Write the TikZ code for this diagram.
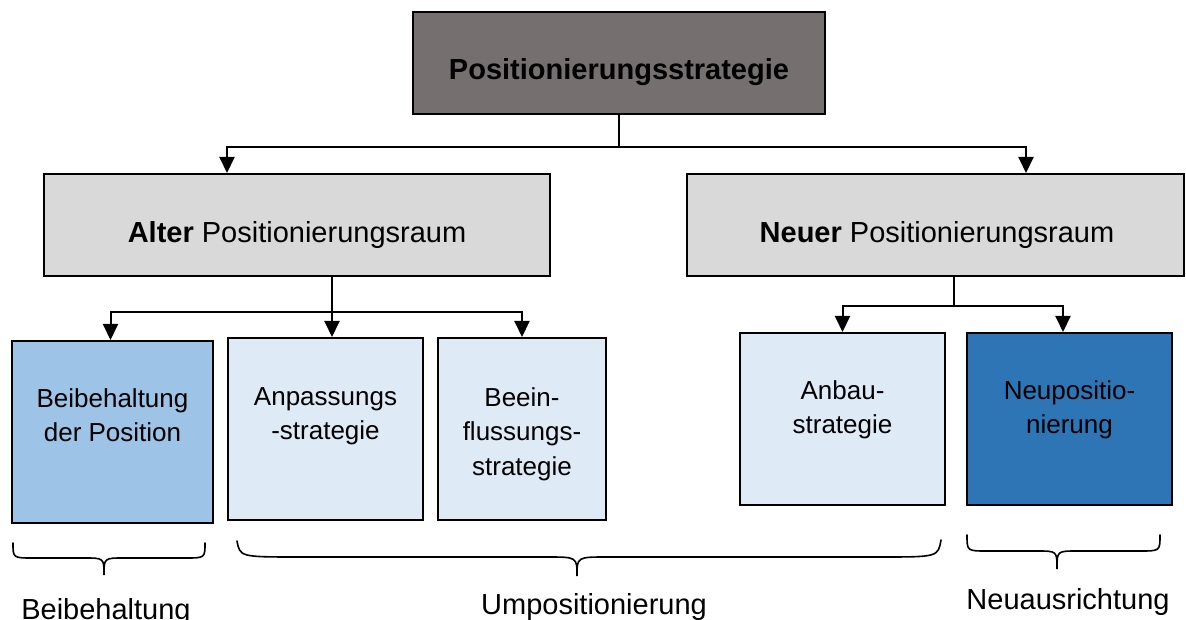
\documentclass[tikz,border=0pt]{standalone}
\usepackage{fontspec}
\setmainfont{Liberation Sans}
\usetikzlibrary{arrows.meta}
\definecolor{topgray}{RGB}{117,112,111}
\definecolor{midgray}{RGB}{217,217,217}
\definecolor{midblue}{RGB}{157,195,230}
\definecolor{paleblue}{RGB}{222,235,247}
\definecolor{deepblue}{RGB}{46,117,182}
\begin{document}
\begin{tikzpicture}[x=1pt,y=-1pt,
  box/.style={draw=black,line width=2pt,inner sep=0pt},
  bigtxt/.style={inner sep=0pt,font=\fontsize{29}{34}\selectfont},
  boxtxt/.style={inner sep=0pt,anchor=north,align=center,font=\fontsize{26}{34.5}\selectfont},
  conn/.style={line width=2pt},
  arrow/.style={line width=2pt,-{Triangle[length=16pt,width=15pt]}},
  brace/.style={line width=1.6pt,line cap=round}]
\useasboundingbox (0,0) rectangle (1186,620);

% top level
\node[box,fill=topgray,minimum width=412pt,minimum height=102pt] (top) at (619,63) {};
\node[bigtxt,anchor=base] (toptxt) at (619,80) {\textbf{Positionierungsstrategie}};

% second level
\node[box,fill=midgray,minimum width=506pt,minimum height=102pt] (alter) at (297,225) {};
\node[bigtxt,anchor=base] (altertxt) at (297,243) {\textbf{Alter} Positionierungsraum};
\node[box,fill=midgray,minimum width=497pt,minimum height=102pt] (neuer) at (935.5,225) {};
\node[bigtxt,anchor=base] (neuertxt) at (937,243) {\textbf{Neuer} Positionierungsraum};

% third level
\node[box,fill=midblue,minimum width=201pt,minimum height=182pt] (beib) at (112.5,432) {};
\node[box,fill=paleblue,minimum width=195pt,minimum height=182pt] (anp) at (325.5,429) {};
\node[box,fill=paleblue,minimum width=168pt,minimum height=182pt] (bee) at (522,429) {};
\node[box,fill=paleblue,minimum width=205pt,minimum height=172pt] (anbau) at (842.5,419) {};
\node[box,fill=deepblue,minimum width=205pt,minimum height=172pt] (neup) at (1069.5,419) {};

\node[boxtxt] (beibtxt) at ([yshift=-48pt]beib.north) {Beibehaltung\\der Position};
\node[boxtxt] (anptxt) at ([yshift=-50pt]anp.north) {Anpassungs\\-strategie};
\node[boxtxt] (beetxt) at ([yshift=-50pt]bee.north) {Beein-\\flussungs-\\strategie};
\node[boxtxt] (anbautxt) at ([yshift=-48pt]anbau.north) {Anbau-\\strategie};
\node[boxtxt] (neuptxt) at ([yshift=-48pt]neup.north) {Neupositio-\\nierung};

% connectors
\draw[conn] (top.south) -- ++(0,32) coordinate (tj);
\draw[arrow] (tj) -| ([xshift=-70pt]alter.north);
\draw[arrow] (tj) -| ([xshift=90.5pt]neuer.north);

\draw[conn] ([xshift=35pt]alter.south) -- ++(0,35) coordinate (aj);
\draw[arrow] (aj) -| ([xshift=-2pt]beib.north);
\draw[arrow] (aj) -- (aj |- anp.north);
\draw[arrow] (aj) -| (bee.north);

\draw[conn] ([xshift=18.5pt]neuer.south) -- ++(0,29) coordinate (nj);
\draw[arrow] (nj) -| (anbau.north);
\draw[arrow] (nj) -| ([xshift=-6.5pt]neup.north);

% braces
\draw[brace] (13,543) .. controls (13,558) .. (33,558) -- (84,558)
  .. controls (104,558) .. (104,575) .. controls (104,558) .. (124,558)
  -- (185,558) .. controls (205,558) .. (205,543);
\draw[brace] (237,541) .. controls (240,557) .. (300,557) -- (547,557)
  .. controls (577,557) .. (577,576) .. controls (577,557) .. (607,557)
  -- (880,557) .. controls (938,557) .. (941,540);
\draw[brace] (967,535) .. controls (967,551) .. (987,551) -- (1037,551)
  .. controls (1057,551) .. (1057,569) .. controls (1057,551) .. (1077,551)
  -- (1140,551) .. controls (1160,551) .. (1160,535);

% group labels
\node[bigtxt,anchor=base] (lbeib) at (106,619) {Beibehaltung};
\node[bigtxt,anchor=base] (lump) at (594,614) {Umpositionierung};
\node[bigtxt,anchor=base] (lneu) at (1068,609) {Neuausrichtung};
\end{tikzpicture}
\end{document}
